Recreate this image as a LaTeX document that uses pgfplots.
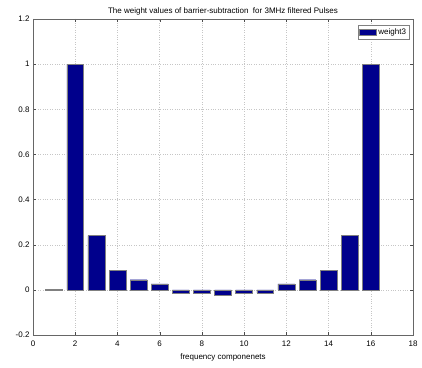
\documentclass[border=0pt]{standalone}
\usepackage{fontspec}
\setmainfont{Liberation Sans}
\usepackage{pgfplots}
\pgfplotsset{compat=1.18}
\definecolor{mnavy}{rgb}{0,0,0.55}
\begin{document}
\begin{tikzpicture}
\begin{axis}[
  scale only axis, width=380pt, height=316pt,
  xmin=0, xmax=18, ymin=-0.2, ymax=1.2,
  xtick={0,2,...,18}, ytick={-0.2,0,0.2,0.4,0.6,0.8,1,1.2},
  yticklabel style={/pgf/number format/fixed},
  /pgf/number format/assume math mode=true,
  grid=major, major grid style={dotted, gray!45},
  tick style={black!70}, tick align=inside,
  major tick length=3pt,
  ticklabel style={font=\fontsize{8}{9}\selectfont},
  xticklabel style={yshift=-2pt},
  title={The weight values of barrier-subtraction\ \ for 3MHz filtered Pulses},
  title style={font=\fontsize{8}{9}\selectfont, yshift=-6pt},
  xlabel={frequency componenets},
  xlabel style={font=\fontsize{8}{9}\selectfont, yshift=-1pt},
  legend style={at={(0.99,0.98)}, anchor=north east, font=\fontsize{8}{9}\selectfont, draw=black!50, legend cell align=left, inner sep=1pt, row sep=0pt},
  legend image code/.code={\draw[#1] (0cm,-0.09cm) rectangle (0.6cm,0.11cm);},
  axis line style={black!60},
]
\addplot[ybar, bar width=0.8, fill=mnavy, draw=black!50] coordinates {
(1,0.002) (2,1) (3,0.24) (4,0.085) (5,0.045) (6,0.027) (7,-0.015) (8,-0.015)
(9,-0.025) (10,-0.015) (11,-0.015) (12,0.027) (13,0.045) (14,0.085) (15,0.24) (16,1)};
\addlegendentry{weight3}
\end{axis}
\pgfresetboundingbox
\path (current axis.south west)++(-33pt,-32pt) rectangle ([xshift=9pt,yshift=19pt]current axis.north east);
\end{tikzpicture}
\end{document}
